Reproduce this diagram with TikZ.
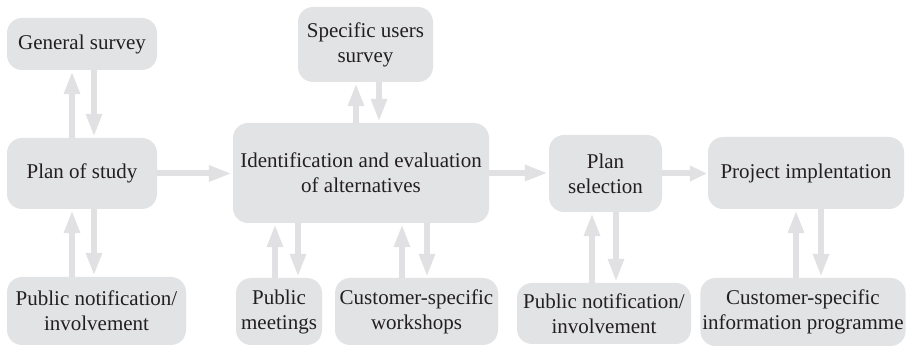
\documentclass[tikz,border=0pt]{standalone}
\usepackage{fontspec}
\setmainfont{LiberationSerif}[Extension=.ttf, UprightFont=*-Regular, BoldFont=*-Bold]
\usepackage{xcolor}
\usetikzlibrary{positioning,calc,arrows.meta}

\definecolor{boxgray}{RGB}{226,227,229}
\definecolor{arrowgray}{RGB}{225,225,227}
\definecolor{textdark}{RGB}{35,31,32}

\tikzset{
  stagebox/.style={rectangle, rounded corners=15pt, fill=boxgray, draw=none,
    text=textdark, align=center, inner sep=2pt,
    font=\fontsize{21}{25}\selectfont},
  flow/.style={draw=arrowgray, line width=6pt, shorten >=1pt,
    -{Triangle[length=23pt,width=15pt]}}
}

\begin{document}
\begin{tikzpicture}[x=1pt,y=-1pt]

\useasboundingbox (0,0) rectangle (906,347);

% Left column

\node[stagebox, minimum width=150pt, minimum height=52pt]  (GeneralSurvey) at (82,44)    {General survey};
\node[stagebox, minimum width=150pt, minimum height=71pt]  (PlanStudy)     at (82,173.5)  {Plan of study};
\node[stagebox, minimum width=179pt, minimum height=68pt]  (PublicNotif1)  at (96.5,311) {Public notification/\\involvement};

% Middle

\node[stagebox, minimum width=135pt, minimum height=75pt]  (SpecificSurvey) at (365.5,44.5) {Specific users\\survey};
\node[stagebox, minimum width=256pt, minimum height=100pt] (IdentEval)      at (361,173)    {Identification and evaluation\\of alternatives};
\node[stagebox, minimum width=86pt, minimum height=67pt]   (PublicMeet)     at (279,311.5)  {Public\\meetings};
\node[stagebox, minimum width=163pt, minimum height=67pt]  (CustWorkshop)   at (416.5,311.5) {Customer-specific\\workshops};

% Right

\node[stagebox, minimum width=113pt, minimum height=77pt]  (PlanSelect)   at (605.5,173.5) {Plan\\selection};
\node[stagebox, minimum width=196pt, minimum height=72pt]  (ProjectImpl)  at (806,173)     {\raisebox{4pt}{Project implentation}};
\node[stagebox, minimum width=174pt, minimum height=61pt]  (PublicNotif2) at (604,313.5)   {Public notification/\\involvement};
\node[stagebox, minimum width=202pt, minimum height=68pt]  (CustInfo)     at (803,312)     {Customer-specific\\information programme};

% Main line

\draw[flow] (PlanStudy.east)  -- (PlanStudy.east -| IdentEval.west);
\draw[flow] (IdentEval.east)  -- (IdentEval.east -| PlanSelect.west);
\draw[flow, -{Triangle[length=17pt,width=15pt]}] (PlanSelect.east) -- (PlanSelect.east -| ProjectImpl.west);

% Plan of study up and down

\draw[flow] ([xshift=-10pt]PlanStudy.north) -- ([xshift=-10pt]PlanStudy.north |- GeneralSurvey.south);
\draw[flow] ([xshift=12pt]GeneralSurvey.south) -- ([xshift=12pt]GeneralSurvey.south |- PlanStudy.north);
\draw[flow] ([xshift=-10pt]PlanStudy.south |- PublicNotif1.north) -- ([xshift=-10pt]PlanStudy.south);
\draw[flow] ([xshift=12pt]PlanStudy.south) -- ([xshift=12pt]PlanStudy.south |- PublicNotif1.north);

% Identification up and down

\draw[flow] ([xshift=-5pt]IdentEval.north) -- ([xshift=-5pt]IdentEval.north |- SpecificSurvey.south);
\draw[flow] ([xshift=18pt]IdentEval.north |- SpecificSurvey.south) -- ([xshift=18pt]IdentEval.north);
\draw[flow] ([xshift=-86pt]IdentEval.south |- PublicMeet.north) -- ([xshift=-86pt]IdentEval.south);
\draw[flow] ([xshift=-63pt]IdentEval.south) -- ([xshift=-63pt]IdentEval.south |- PublicMeet.north);
\draw[flow] ([xshift=41pt]IdentEval.south |- CustWorkshop.north) -- ([xshift=41pt]IdentEval.south);
\draw[flow] ([xshift=66pt]IdentEval.south) -- ([xshift=66pt]IdentEval.south |- CustWorkshop.north);

% Plan selection and project

\draw[flow] ([xshift=-13.5pt]PlanSelect.south |- PublicNotif2.north) -- ([xshift=-13.5pt]PlanSelect.south);
\draw[flow] ([xshift=10.5pt]PlanSelect.south) -- ([xshift=10.5pt]PlanSelect.south |- PublicNotif2.north);
\draw[flow] ([xshift=-10pt]ProjectImpl.south |- CustInfo.north) -- ([xshift=-10pt]ProjectImpl.south);
\draw[flow] ([xshift=15pt]ProjectImpl.south) -- ([xshift=15pt]ProjectImpl.south |- CustInfo.north);

\end{tikzpicture}
\end{document}
